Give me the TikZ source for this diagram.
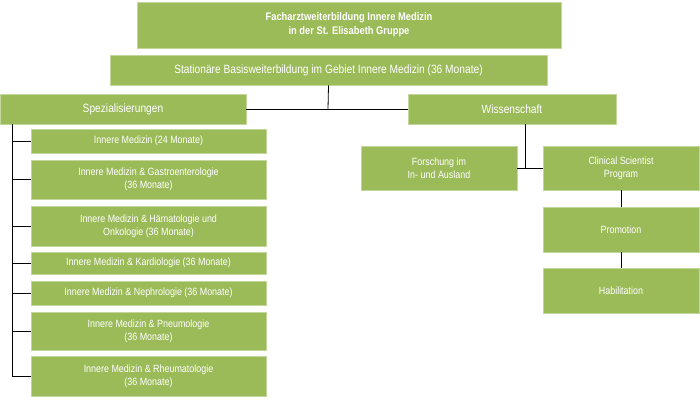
\documentclass[tikz,border=0pt]{standalone}
\usepackage{fontspec}
\setmainfont{Liberation Sans}[FakeStretch=0.85]
\definecolor{gr}{HTML}{9BBB59}
\begin{document}
\begin{tikzpicture}[x=1pt,y=-1pt,
  bx/.style={fill=gr,draw=gr!60!white,line width=0.6pt,text=white,align=center,inner sep=0pt,font=\fontsize{10.5}{13}\selectfont},
  ln/.style={draw=black,line width=0.8pt}]
\useasboundingbox (0,0) rectangle (700,403);
\newcommand\bb[6]{\node[bx,minimum width=#3-#1,minimum height=#4-#2,#6] (#5) at ({(#1+#3)/2},{(#2+#4)/2}) {};}
\node[bx,minimum width=424,minimum height=46,font=\bfseries\fontsize{11}{14}\selectfont] (t) at (349,25) {Facharztweiterbildung Innere Medizin\\in der St. Elisabeth Gruppe};
\node[bx,minimum width=437,minimum height=30,font=\fontsize{12}{14}\selectfont] (s) at (328.5,70) {Stationäre Basisweiterbildung im Gebiet Innere Medizin (36 Monate)};
\node[bx,minimum width=246,minimum height=30,font=\fontsize{12}{14}\selectfont] (sp) at (123,109) {Spezialisierungen};
\node[bx,minimum width=208,minimum height=30,font=\fontsize{12}{14}\selectfont] (w) at (512,109) {Wissenschaft};
\node[bx,minimum width=235,minimum height=24] (l1) at (148.5,141) {Innere Medizin (24 Monate)};
\node[bx,minimum width=235,minimum height=39] (l2) at (148.5,179.5) {Innere Medizin \& Gastroenterologie\\(36 Monate)};
\node[bx,minimum width=235,minimum height=40] (l3) at (148.5,226) {Innere Medizin \& Hämatologie und\\Onkologie (36 Monate)};
\node[bx,minimum width=235,minimum height=22] (l4) at (148.5,263) {Innere Medizin \& Kardiologie (36 Monate)};
\node[bx,minimum width=235,minimum height=24] (l5) at (148.5,293) {Innere Medizin \& Nephrologie (36 Monate)};
\node[bx,minimum width=235,minimum height=38] (l6) at (148.5,331) {Innere Medizin \& Pneumologie\\(36 Monate)};
\node[bx,minimum width=235,minimum height=40] (l7) at (148.5,376) {Innere Medizin \& Rheumatologie\\(36 Monate)};
\node[bx,minimum width=156,minimum height=44] (f) at (439,168) {Forschung im\\In- und Ausland};
\node[bx,minimum width=156,minimum height=44] (c) at (621,168) {Clinical Scientist\\Program};
\node[bx,minimum width=156,minimum height=45] (p) at (621,229.5) {Promotion};
\node[bx,minimum width=156,minimum height=45] (h) at (621,290.5) {Habilitation};
\coordinate (j) at (328,109);
\draw[ln] (s.south) -- (j);
\draw[ln] (sp.east) -- (w.west);
\coordinate (top) at (12,124);
\draw[ln] (sp.south west -| top) -- (12,376);
\foreach \n in {l1,l2,l3,l4,l5,l6,l7} \draw[ln] (\n.west) -- (\n.west -| top);
\draw[ln] (w.south -| 525,0) -- (525,168);
\draw[ln] (f.east) -- (c.west);
\draw[ln] (c.south) -- (p.north);
\draw[ln] (p.south) -- (h.north);
\end{tikzpicture}
\end{document}
